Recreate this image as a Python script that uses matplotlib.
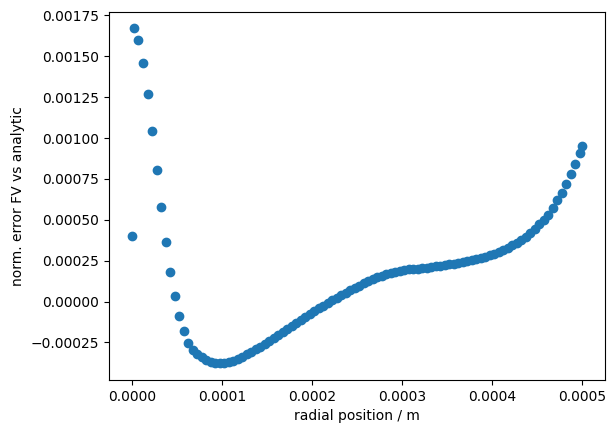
import numpy as np
import matplotlib
matplotlib.use('Agg')
import matplotlib.pyplot as plt
from matplotlib.ticker import MultipleLocator

# radial grid: boundary at r=0, 100 cell centres (dr=5e-6), boundary at r=R
dr = 5e-6
r_centres = (np.arange(100) + 0.5) * dr
r = np.concatenate([[0.0], r_centres, [5e-4]])

# normalised error (units of 1e-4)
err_first = [4.02]
err_cells = [16.71, 15.98, 14.57, 12.68, 10.41, 8.03, 5.77, 3.63, 1.80, 0.33,
             -0.89, -1.81, -2.51, -2.95, -3.18, -3.40, -3.56, -3.67, -3.74, -3.77,
             -3.76, -3.70, -3.61, -3.50, -3.38, -3.23, -3.08, -2.92, -2.76, -2.59,
             -2.41, -2.23, -2.04, -1.85, -1.66, -1.48, -1.30, -1.12, -0.94, -0.77,
             -0.60, -0.42, -0.25, -0.08, 0.08, 0.24, 0.39, 0.54, 0.69, 0.84,
             0.98, 1.11, 1.24, 1.36, 1.48, 1.58, 1.67, 1.75, 1.82, 1.88,
             1.93, 1.97, 2.00, 2.02, 2.05, 2.08, 2.11, 2.15, 2.19, 2.23,
             2.28, 2.33, 2.38, 2.43, 2.48, 2.54, 2.60, 2.67, 2.75, 2.84,
             2.94, 3.05, 3.17, 3.30, 3.44, 3.58, 3.77, 3.97, 4.20, 4.46,
             4.75, 5.02, 5.32, 5.73, 6.21, 6.64, 7.21, 7.80, 8.43, 9.07]
err_last = [9.53]
err = np.array(err_first + err_cells + err_last) * 1e-4

fig = plt.figure(figsize=(6.16, 4.34), dpi=100)
fig.subplots_adjust(left=0.1773, right=0.9817, top=0.9733, bottom=0.1244)
ax = fig.add_subplot(1, 1, 1)
ax.scatter(r, err)
ax.yaxis.set_major_locator(MultipleLocator(0.00025))
ax.set_xlabel('radial position / m')
ax.set_ylabel('norm. error FV vs analytic')
fig.savefig('out.png', dpi=100)
